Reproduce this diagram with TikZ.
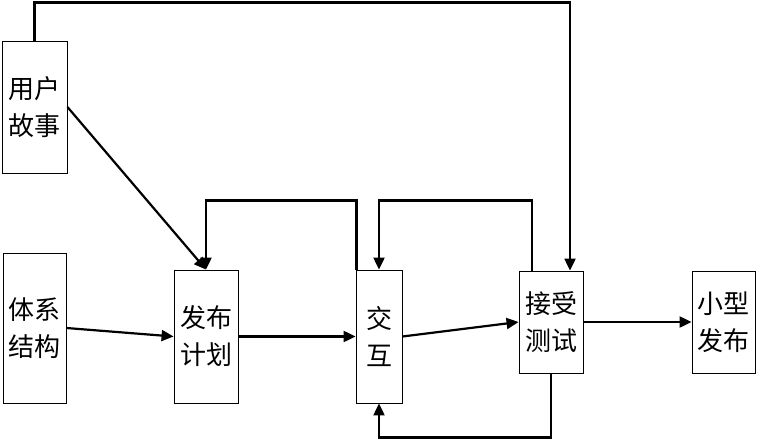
\documentclass[tikz,border=0pt]{standalone}
\usepackage{fontspec}
\setmainfont{Noto Sans CJK SC}
\usetikzlibrary{arrows.meta}
\begin{document}
\begin{tikzpicture}[x=1pt,y=-1pt,
  box/.style={draw, line width=0.9pt, inner sep=0pt, align=center,
    font=\fontsize{26}{37}\selectfont},
  conn/.style={line width=2.2pt},
  arr/.style={conn, -{Triangle[length=12pt,width=11pt]}}]
\useasboundingbox (0,0) rectangle (759,441);
\node[box, minimum width=65pt, minimum height=132pt] (us) at (34.5,107) {用户\\故事};
\node[box, minimum width=63pt, minimum height=150pt] (arch) at (34.5,328) {体系\\结构};
\node[box, minimum width=64pt, minimum height=133pt] (plan) at (206,336.5) {发布\\计划};
\node[box, minimum width=46pt, minimum height=133pt] (ia) at (379,336.5) {交\\互};
\node[box, minimum width=64pt, minimum height=102pt] (at) at (551,322) {接受\\测试};
\node[box, minimum width=63pt, minimum height=102pt] (sm) at (723.5,322) {小型\\发布};
\draw[arr] (us.north) -- ++(0,-38) -| ([xshift=19pt]at.north);
\draw[arr] (us.east) -- (plan.north);
\draw[arr] (arch.east) -- (plan.west);
\draw[arr] (plan.east) -- (ia.west);
\draw[arr] ([xshift=1pt]ia.north west) -- ++(0,-69) -| (plan.north);
\draw[arr] (ia.east) -- (at.west);
\draw[arr] ([xshift=-19pt]at.north) -- ++(0,-70) -| (ia.north);
\draw[arr] (at.south) -- ++(0,64) -| (ia.south);
\draw[arr] (at.east) -- (sm.west);
\end{tikzpicture}
\end{document}
